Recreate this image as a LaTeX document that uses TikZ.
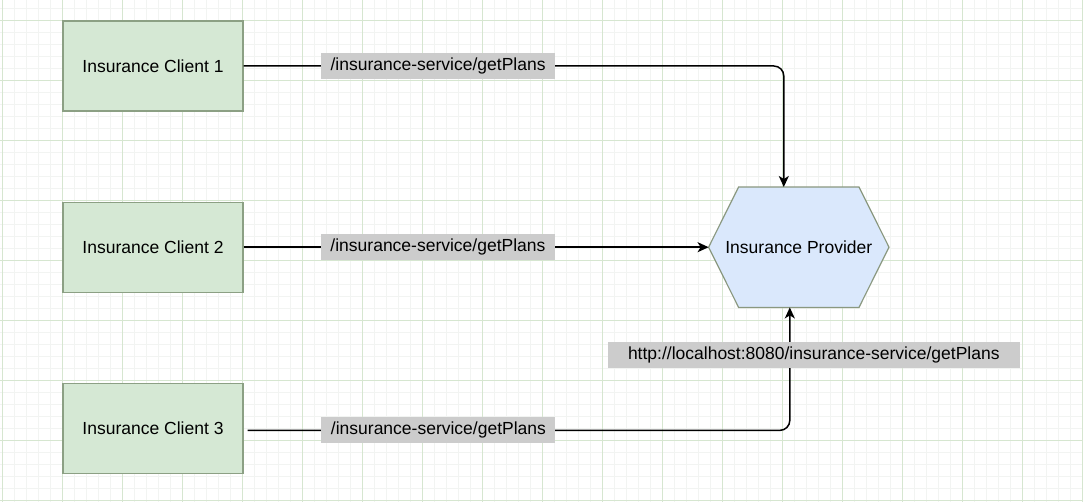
\documentclass[tikz,border=0pt]{standalone}
\usepackage{fontspec}
\setmainfont{Liberation Sans}
\usetikzlibrary{positioning, arrows.meta}
\definecolor{clientfill}{RGB}{213,232,212}
\definecolor{clientline}{RGB}{140,160,132}
\definecolor{provfill}{RGB}{218,232,252}
\definecolor{provline}{RGB}{138,152,128}
\definecolor{labelfill}{RGB}{204,204,204}
\definecolor{majorgrid}{RGB}{214,230,208}
\definecolor{minorgrid}{RGB}{242,244,242}

\begin{document}
\begin{tikzpicture}[x=1pt,y=-1pt,font=\fontsize{17.5}{21}\selectfont]
\tikzstyle{client}=[draw=clientline, fill=clientfill, line width=1.2pt, minimum width=180pt, minimum height=90pt]
\tikzstyle{provider}=[minimum width=180pt, minimum height=120pt,
  path picture={\fill[provfill] (path picture bounding box.west) -- ([xshift=30pt]path picture bounding box.north west)
    -- ([xshift=-30pt]path picture bounding box.north east) -- (path picture bounding box.east)
    -- ([xshift=-30pt]path picture bounding box.south east) -- ([xshift=30pt]path picture bounding box.south west) -- cycle;}]
\tikzstyle{hexline}=[draw=provline, line width=1.2pt]
\tikzstyle{urlbox}=[fill=labelfill, sharp corners, inner xsep=9.5pt, minimum height=26pt]
\tikzstyle{call}=[draw, line width=1.5pt, rounded corners=10pt, -{Stealth[length=11pt, width=10pt, inset=3pt]}]

\useasboundingbox (0,0) rectangle (1083,502);
\fill[white] (0,0) rectangle (1083,502);
\foreach \x in {2,14,...,1082} \draw[minorgrid] (\x,0) -- (\x,502);
\foreach \y in {8,20,...,500} \draw[minorgrid] (0,\y) -- (1083,\y);
\foreach \x in {2,62,...,1082} \draw[majorgrid] (\x,0) -- (\x,502);
\foreach \y in {20,80,...,500} \draw[majorgrid] (0,\y) -- (1083,\y);

\node[client] (C1) at (153,66) {Insurance Client 1};
\node[client, below=90pt of C1] (C2) {Insurance Client 2};
\node[client, below=90pt of C2] (C3) {Insurance Client 3};
\node[provider, right=465pt of C2] (P) {Insurance Provider};
\draw[hexline] (P.west) -- ([xshift=30pt]P.north west) -- ([xshift=-30pt]P.north east) -- (P.east)
  -- ([xshift=-30pt]P.south east) -- ([xshift=30pt]P.south west) -- cycle;

\draw[call] (C1.east) -| node[urlbox, pos=0.18] {/insurance-service/getPlans} ([xshift=-15pt]P.north);
\draw[call] (C2.east) -- node[urlbox, pos=0.418] {/insurance-service/getPlans} (P.west);
\draw[call] ([xshift=4pt, yshift=-2pt]C3.east) -| node[urlbox, pos=0.176] {/insurance-service/getPlans}
            node[urlbox, pos=0.808, xshift=24pt, inner xsep=20pt] {http://localhost:8080/insurance-service/getPlans} ([xshift=-9pt]P.south);
\end{tikzpicture}
\end{document}
